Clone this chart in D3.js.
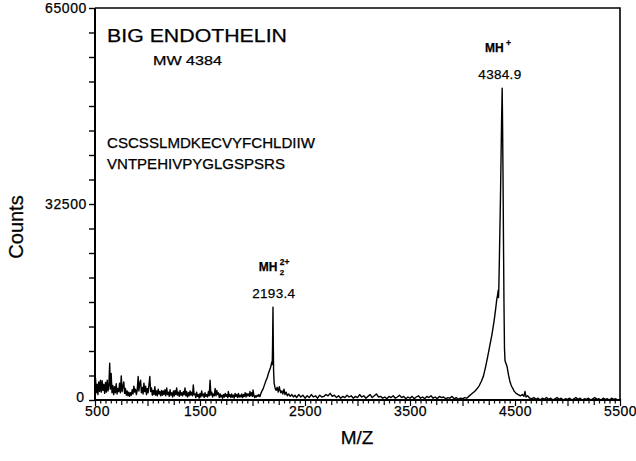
<!DOCTYPE html>
<html>
<head>
<meta charset="utf-8">
<script src="https://cdn.jsdelivr.net/npm/d3@7"></script>
<style>
  html, body { margin: 0; padding: 0; background: #fff; }
  svg { display: block; }
  text { font-family: "Liberation Sans", Arial, Helvetica, sans-serif; fill: #000; stroke: #000; stroke-width: 0.25px; }
</style>
</head>
<body>
<svg id="chart" width="636" height="461"></svg>
<script>
// ---- data ----
const xDomain = [500, 5500];
const yDomain = [0, 65000];
const xTickLabels = [500, 1500, 2500, 3500, 4500, 5500];
const yTickLabels = [0, 32500, 65000];
const peakLabels = [
  { mz: 4384.9, count: 51700, ion: "MH", charge: "+", sub: "" },
  { mz: 2193.4, count: 15400, ion: "MH", charge: "2+", sub: "2" }
];
const titleText = "BIG  ENDOTHELIN";
const mwText = "MW  4384";
const sequenceLines = ["CSCSSLMDKECVYFCHLDIIW", "VNTPEHIVPYGLGSPSRS"];

// spectrum: [m/z, counts]
const lowMassNoise = [
  [500,1800],[505,3600],[512,1200],[520,2600],[528,900],[536,3000],[544,1400],[552,3300],[560,1300],[568,3200],
  [576,1600],[584,2600],[592,1100],[600,2900],[608,1300],[616,3300],[624,1500],[632,2500],[640,6100],[646,1800],
  [654,4400],[662,1200],[670,2400],[678,900],[686,2200],[694,1200],[702,2700],[710,1000],[718,1900],[726,1400],
  [734,2800],[742,1200],[750,4000],[758,1400],[766,2300],[774,3000],[782,1100],[790,1900],[798,800],[806,1500],
  [814,700],[822,1300],[830,600],[838,1200],[846,800],[854,1700],[862,1000],[870,2300],[878,1300],[886,1800],
  [894,900],[902,1600],[911,3900],[918,1500],[926,2700],[934,3300],[942,1200],[950,2100],[958,1000],[966,2800],
  [974,1400],[982,2300],[990,900],[998,1900],[1006,1200],[1014,2500],[1022,3900],[1030,1400],[1038,2000],[1046,800],
  [1054,1600],[1062,900],[1070,2200],[1078,800],[1086,1500],[1094,700],[1102,1800],[1110,1000],[1118,1400],[1126,700],
  [1134,1600],[1142,800],[1150,1500],[1158,900],[1166,1700],[1174,700],[1183,2000],[1191,900],[1199,1300],[1207,600],
  [1215,1700],[1223,800],[1231,1200],[1239,500],[1247,1500],[1255,700],[1263,1600],[1271,900],[1278,2000],[1286,800],
  [1294,1300],[1302,600],[1310,1600],[1318,800],[1326,1200],[1334,700],[1342,1400],[1350,900],[1357,2000],[1365,700],
  [1373,1400],[1381,500],[1389,1200],[1397,700],[1405,1500],[1413,800],[1421,1300],[1429,700],[1436,2500],[1444,900],
  [1452,1000],[1460,400],[1468,1300],[1476,600],[1484,900],[1492,300],[1500,1100],[1508,500],[1516,1500],[1524,700],
  [1532,1000],[1540,400],[1548,1200],[1556,600],[1564,900],[1572,500],[1580,1400],[1588,700],[1596,3300],[1604,800],
  [1612,1300],[1620,500],[1628,1000],[1636,700],[1644,1900],[1652,700],[1660,1600],[1668,900],[1676,1200],[1684,400],
  [1692,1000],[1700,500],[1708,800],[1716,300],[1724,900],[1732,500],[1740,1100],[1748,600],[1756,900],[1764,400],
  [1770,1400],[1778,600],[1786,900],[1794,400],[1802,1000],[1810,500],[1818,800],[1826,300],[1834,1100],[1842,600],
  [1850,900],[1858,400],[1866,1100],[1874,500],[1882,800],[1890,500],[1898,1000],[1906,400],[1914,900],[1922,600],
  [1930,1200],[1938,500],[1946,1100],[1954,700],[1962,1000],[1970,600],[1976,1400],[1984,700],[1992,1200],[2000,600],
  [2005,1650],[2012,900],[2020,400],[2028,700],[2036,500],[2044,800],[2052,600],[2060,900],[2071,550]
];
const doublyChargedPeak = [
  [2080,1100],[2090,1500],[2100,1800],[2110,2300],[2120,2800],[2130,3300],[2140,3700],[2150,4300],[2160,4800],
  [2170,5300],[2178,5800],[2184,6300],[2188,5900],[2191,9000],[2195,15400],[2198,9500],[2201,4800],[2206,2800],
  [2215,2000],[2225,1600],[2235,2100],[2245,1300],[2255,2200],[2262,1600],[2270,1200],[2280,1500],[2290,1000],
  [2300,1800],[2310,900],[2320,1300],[2332,700],[2345,1000],[2360,600],[2375,900],[2390,500],[2405,800]
];
const midBaseline = [
  [2420,400],[2440,900],[2460,500],[2480,800],[2500,300],[2520,700],[2540,400],[2560,900],[2580,500],[2600,700],
  [2620,300],[2640,800],[2660,500],[2680,600],[2700,900],[2720,700],[2740,1100],[2760,600],[2780,800],[2800,400],
  [2820,700],[2840,300],[2860,600],[2880,400],[2900,800],[2920,500],[2940,700],[2960,300],[2980,600],[3000,400],
  [3020,900],[3040,500],[3060,700],[3080,300],[3100,600],[3120,900],[3140,400],[3160,700],[3180,1000],[3200,500],
  [3220,600],[3240,300],[3260,500],[3280,200],[3300,600],[3320,400],[3340,700],[3360,300],[3380,500],[3400,800],
  [3420,400],[3440,600],[3460,200],[3480,500],[3500,300],[3520,600],[3540,200],[3560,500],[3580,700],[3600,300],
  [3620,500],[3640,200],[3660,600],[3680,400],[3700,700],[3720,300],[3740,500],[3760,200],[3780,600],[3800,400],
  [3820,500],[3840,200],[3860,400],[3880,300],[3900,600],[3920,200],[3940,400],[3960,100],[3980,300],[4000,200],
  [4020,400],[4040,300]
];
const singlyChargedPeak = [
  [4060,600],[4080,900],[4100,1200],[4120,1500],[4140,1900],[4160,2400],[4180,3100],[4200,4000],[4220,5500],
  [4240,7200],[4260,9000],[4280,10800],[4300,13000],[4315,15000],[4325,16500],[4335,17500],[4340,18200],[4343,17000],
  [4346,18500],[4352,24000],[4362,34000],[4372,46000],[4378,51700],[4382,45000],[4386,37000],[4390,27000],
  [4395,16000],[4400,8500],[4405,6500],[4415,6000],[4425,5500],[4432,4800],[4440,4000],[4450,3200],[4460,2600],
  [4470,2200],[4480,1900],[4490,1500],[4500,1300],[4510,1100],[4520,1000],[4530,900],[4540,800],[4550,700],
  [4570,900],[4585,600],[4595,1400],[4605,500],[4620,700],[4640,300]
];
const highMassBaseline = [
  [4660,200],[4680,400],[4700,100],[4720,300],[4740,0],[4760,300],[4780,100],[4800,400],[4820,100],[4840,300],
  [4860,0],[4880,200],[4900,400],[4920,100],[4940,300],[4960,0],[4980,200],[5000,100],[5020,300],[5040,0],
  [5060,200],[5080,400],[5100,100],[5120,300],[5140,0],[5160,200],[5180,100],[5200,300],[5220,0],[5240,200],
  [5260,400],[5280,100],[5300,200],[5320,0],[5340,300],[5360,100],[5380,200],[5400,0],[5420,300],[5440,100],
  [5460,200],[5480,0],[5500,100]
];
const spectrum = [].concat(lowMassNoise, doublyChargedPeak, midBaseline, singlyChargedPeak, highMassBaseline);

// ---- drawing ----
const svg = d3.select("#chart");
const x = d3.scaleLinear().domain(xDomain).range([95, 620]);
const y = d3.scaleLinear().domain(yDomain).range([400, 8]);

// frame (top and right)
svg.append("path")
  .attr("d", `M${x(xDomain[0])},${y(yDomain[1])}H${x(xDomain[1])}V${y(0)}`)
  .attr("fill", "none").attr("stroke", "#000").attr("stroke-width", 1.6);

// spectrum trace
const line = d3.line().x(d => x(d[0])).y(d => y(d[1]));
svg.append("path")
  .datum(spectrum)
  .attr("d", line)
  .attr("fill", "none")
  .attr("stroke", "#000")
  .attr("stroke-width", 1.4)
  .attr("stroke-linejoin", "round");

// y axis
const yMinor = d3.range(0, 16.5).map(i => i * 65000 / 16);
const yAxis = d3.axisLeft(y)
  .tickValues(yMinor)
  .tickSize(6)
  .tickPadding(2)
  .tickFormat(v => yTickLabels.includes(v) ? String(v) : "");
const gy = svg.append("g").attr("transform", `translate(${x(xDomain[0])},0)`).call(yAxis);
gy.select(".domain").attr("stroke-width", 2).attr("d", `M0,${y(yDomain[1])}V${y(0)}`);
gy.selectAll(".tick line").attr("stroke-width", 1.4);
gy.selectAll(".tick text").attr("font-size", 14).attr("letter-spacing", "0.6px")
  .attr("font-family", "Liberation Sans, Arial, sans-serif");
// the "0" label sits tight against the corner, next to the "500" label
gy.selectAll(".tick text").filter(d => d === 0)
  .attr("letter-spacing", null).attr("x", -11).attr("dy", "0.1em");

// x axis
const xMinor = d3.range(0, 101).map(i => 500 + i * 50);
const xAxis = d3.axisBottom(x)
  .tickValues(xMinor)
  .tickSize(4)
  .tickPadding(3)
  .tickFormat(v => xTickLabels.includes(v) ? String(v) : "");
const gx = svg.append("g").attr("transform", `translate(0,${y(0)})`).call(xAxis);
gx.select(".domain").attr("stroke-width", 2).attr("d", `M${x(xDomain[0])},0H${x(xDomain[1])}`);
gx.selectAll(".tick line")
  .attr("stroke-width", 1.2)
  .attr("y1", -1)
  .attr("y2", d => (d % 500 === 0 ? 6 : (d % 250 === 0 ? 5 : 3.5)));
gx.selectAll(".tick text").attr("font-size", 14).attr("letter-spacing", "0.5px")
  .attr("font-family", "Liberation Sans, Arial, sans-serif").attr("dy", "0.66em");
gx.selectAll(".tick text").filter(d => d === 500).attr("x", 2);

// axis titles
svg.append("text").attr("x", 357).attr("y", 444).attr("text-anchor", "middle")
  .attr("font-size", 19).text("M/Z");
svg.append("text").attr("transform", "translate(23,227) rotate(-90)").attr("text-anchor", "middle")
  .attr("font-size", 20).text("Counts");

// annotations
svg.append("text").attr("x", 107).attr("y", 42).attr("font-size", 18)
  .attr("textLength", 180).attr("lengthAdjust", "spacingAndGlyphs").text(titleText);
svg.append("text").attr("x", 153).attr("y", 65).attr("font-size", 12.5)
  .attr("textLength", 69).attr("lengthAdjust", "spacingAndGlyphs").text(mwText);
sequenceLines.forEach((s, i) => {
  svg.append("text").attr("x", 107).attr("y", 148 + i * 21).attr("font-size", 14.5)
    .attr("textLength", i === 0 ? 208 : 178).attr("lengthAdjust", "spacingAndGlyphs").text(s);
});

// peak labels
peakLabels.forEach(p => {
  const px = x(p.mz) - (p.sub ? 2 : 6);
  const topY = y(p.count);
  const g = svg.append("g");
  g.append("text").attr("x", px + 3).attr("y", topY - 9).attr("text-anchor", "middle")
    .attr("font-size", 13.5).attr("letter-spacing", "0.3px").text(p.mz.toFixed(1));
  const ionW = 20;
  const ix = px - ionW / 2 - 2;
  g.append("text").attr("x", ix).attr("y", topY - 36).attr("font-size", 12)
    .attr("font-weight", "bold").text(p.ion);
  g.append("text").attr("x", ix + ionW + 1).attr("y", topY - 42).attr("font-size", 8.5)
    .attr("font-weight", "bold").text(p.charge);
  if (p.sub) {
    g.append("text").attr("x", ix + ionW + 1).attr("y", topY - 32).attr("font-size", 8)
      .attr("font-weight", "bold").text(p.sub);
  }
});
</script>
</body>
</html>
